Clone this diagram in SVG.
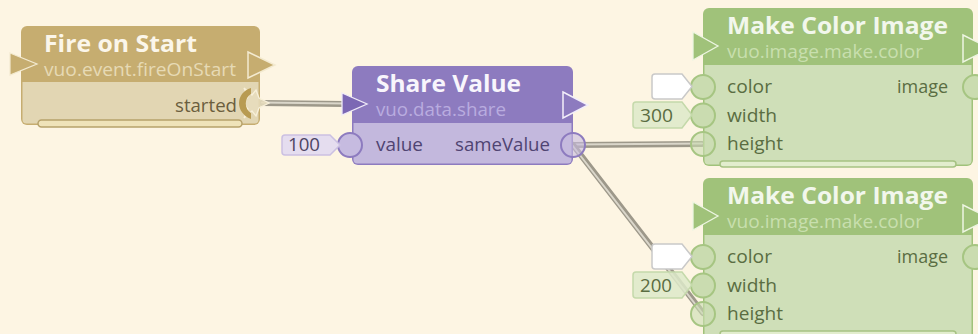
<svg xmlns="http://www.w3.org/2000/svg" width="978" height="334" viewBox="0 0 978 334">
<defs>
<style>
text{font-family:"Open Sans","Noto Sans","DejaVu Sans",sans-serif}
.ttl{font-size:24px;font-weight:bold}
.sub{font-size:18px}
.lbl{font-size:18.5px}
.cab-o{fill:none;stroke:#9d988a;stroke-width:6;stroke-linecap:round}
.cab-i{fill:none;stroke:#dad6ca;stroke-width:2;stroke-linecap:round}
.g-hd{fill:#c6ad70}.g-bd{fill:#e2d6b3}
.p-hd{fill:#8d7bbf}.p-bd{fill:#c3b8dd}
.v-hd{fill:#a0c27a}.v-bd{fill:#cfdfb8}
.g-t{fill:#fbf6ea}.g-s{fill:#e6dab5}.g-l{fill:#6b5e3e}
.p-t{fill:#f8f5fc}.p-s{fill:#b9acdf}.p-l{fill:#4f4472}
.v-t{fill:#f2f7ec}.v-s{fill:#c8dfae}.v-l{fill:#5a6d42}
.vport{fill:#cadcb0;stroke:#a6c582;stroke-width:2}
.vport-c{fill:#cadcb0;fill-opacity:0.6;stroke:#a6c582;stroke-width:2}
.pport{fill:#c6bbe0;stroke:#8d7bbf;stroke-width:2}
.pport-c{fill:#c6bbe0;fill-opacity:0.6;stroke:#8d7bbf;stroke-width:2}
.wflag{fill:#ffffff;stroke:#c9c9c9;stroke-width:1.5}
.vflag{fill:#dde9c9;fill-opacity:0.85;stroke:#c4d9aa;stroke-width:1.5}
.vbar{fill:#e2edcd;stroke:#a6c282;stroke-width:1.5}
</style>
</defs>
<rect width="978" height="334" fill="#fdf5e3"/>

<g id="connectors">
<line class="cab-o" x1="262" y1="103" x2="344" y2="104"/>
<line class="cab-i" x1="262" y1="102.5" x2="344" y2="103.5"/>
<line class="cab-o" x1="573" y1="145" x2="702" y2="144"/>
<line class="cab-i" x1="573" y1="144.5" x2="702" y2="143.5"/>
<line class="cab-o" x1="573" y1="145" x2="703" y2="313"/>
<line class="cab-i" x1="572.5" y1="145.5" x2="702.5" y2="313.5"/>
</g>

<g id="node-fireOnStart">
<rect x="21" y="26" width="239" height="99" rx="6" class="g-hd"/>
<path d="M22.5,82 H258.5 V119.5 Q258.5,123.5 254.5,123.5 H26.5 Q22.5,123.5 22.5,119.5 Z" class="g-bd"/>
<rect x="38" y="120" width="204" height="7" rx="3.5" fill="#efe3b9" stroke="#b7a26b" stroke-width="1.5"/>
<polygon points="10,53 37,64 10,75" class="g-hd" stroke="#f3ead0" stroke-width="1.2"/>
<polygon points="248,52 275,65 248,78" class="g-hd" stroke="#f3ead0" stroke-width="1.5"/>
<text x="44" y="51.5" class="ttl g-t" textLength="153" lengthAdjust="spacingAndGlyphs">Fire on Start</text>
<text x="44" y="75.5" class="sub g-s" textLength="192" lengthAdjust="spacingAndGlyphs">vuo.event.fireOnStart</text>
<text x="237" y="112" class="lbl g-l" text-anchor="end" textLength="62" lengthAdjust="spacingAndGlyphs">started</text>
<polygon points="244,88 252,95 256,90 259,98 269,103 259,108 256,116 252,111 244,118 248,109 243,103 248,97" fill="#e8ddbd" fill-opacity="0.85" stroke="#f8f0da" stroke-width="1.3"/>
<path d="M251,88 C235,93 235,113 251,119 L251,113 C244,109 244,98 251,94 Z" fill="#b89b52"/>
</g>

<g id="node-shareValue">
<rect x="352" y="66" width="221" height="99" rx="6" class="p-hd"/>
<path d="M353.5,123 H571.5 V159.5 Q571.5,163.5 567.5,163.5 H357.5 Q353.5,163.5 353.5,159.5 Z" class="p-bd"/>
<polygon points="342,93 367,104 342,115" fill="#7c68b4" stroke="#efeaf8" stroke-width="1.3"/>
<polygon points="563,92 588,105 563,118" class="p-hd" stroke="#f3effa" stroke-width="1.5"/>
<text x="376" y="92" class="ttl p-t" textLength="145" lengthAdjust="spacingAndGlyphs">Share Value</text>
<text x="376" y="116" class="sub p-s" textLength="130" lengthAdjust="spacingAndGlyphs">vuo.data.share</text>
<circle cx="350" cy="145" r="12" class="pport"/>
<circle cx="573" cy="145" r="12" class="pport-c"/>
<text x="376" y="151" class="lbl p-l" textLength="47" lengthAdjust="spacingAndGlyphs">value</text>
<text x="550" y="151" class="lbl p-l" text-anchor="end" textLength="95" lengthAdjust="spacingAndGlyphs">sameValue</text>
<path d="M285,135 H330 L340,145 L330,155 H285 Q282,155 282,152 V138 Q282,135 285,135 Z" fill="#e5ddef" stroke="#cbc0e2" stroke-width="1.5"/>
<text x="288" y="151" class="lbl" fill="#4e4564" textLength="32" lengthAdjust="spacingAndGlyphs">100</text>
</g>

<g id="node-makeColorImage1">
<rect x="703" y="8" width="270" height="158" rx="6" class="v-hd"/>
<path d="M704.5,65 H971.5 V160.5 Q971.5,164.5 967.5,164.5 H708.5 Q704.5,164.5 704.5,160.5 Z" class="v-bd"/>
<rect x="720" y="161" width="236" height="6" rx="3" class="vbar"/>
<polygon points="693,32 718,46 693,60" class="v-hd" stroke="#edf5e2" stroke-width="1.3"/>
<polygon points="963,35 990,48.5 963,62" class="v-hd" stroke="#edf5e2" stroke-width="1.5"/>
<text x="727" y="34" class="ttl v-t" textLength="221" lengthAdjust="spacingAndGlyphs">Make Color Image</text>
<text x="727" y="58" class="sub v-s" textLength="196" lengthAdjust="spacingAndGlyphs">vuo.image.make.color</text>
<circle cx="703" cy="87" r="12" class="vport"/>
<circle cx="703" cy="115.5" r="12" class="vport"/>
<circle cx="703" cy="144" r="12" class="vport-c"/>
<circle cx="975" cy="87" r="12" class="vport"/>
<text x="727" y="93" class="lbl v-l" textLength="45" lengthAdjust="spacingAndGlyphs">color</text>
<text x="727" y="121.5" class="lbl v-l" textLength="50" lengthAdjust="spacingAndGlyphs">width</text>
<text x="727" y="150" class="lbl v-l" textLength="56" lengthAdjust="spacingAndGlyphs">height</text>
<text x="948" y="93" class="lbl v-l" text-anchor="end" textLength="51" lengthAdjust="spacingAndGlyphs">image</text>
<path d="M655,74 H682 L692,86.5 L682,99 H655 Q652,99 652,96 V77 Q652,74 655,74 Z" class="wflag"/>
<path d="M636,102 H682 L692,115 L682,128 H636 Q633,128 633,125 V105 Q633,102 636,102 Z" class="vflag"/>
<text x="640" y="121.5" class="lbl v-l" textLength="33" lengthAdjust="spacingAndGlyphs">300</text>
</g>

<g id="node-makeColorImage2">
<rect x="703" y="178" width="270" height="170" rx="6" class="v-hd"/>
<path d="M704.5,235 H971.5 V340 H704.5 Z" class="v-bd"/>
<rect x="720" y="331" width="236" height="6" rx="3" class="vbar"/>
<polygon points="693,202 718,216 693,230" class="v-hd" stroke="#edf5e2" stroke-width="1.3"/>
<polygon points="963,205 990,218.5 963,232" class="v-hd" stroke="#edf5e2" stroke-width="1.5"/>
<text x="727" y="204" class="ttl v-t" textLength="221" lengthAdjust="spacingAndGlyphs">Make Color Image</text>
<text x="727" y="228" class="sub v-s" textLength="196" lengthAdjust="spacingAndGlyphs">vuo.image.make.color</text>
<circle cx="703" cy="257" r="12" class="vport"/>
<circle cx="703" cy="285.5" r="12" class="vport"/>
<circle cx="703" cy="314" r="12" class="vport-c"/>
<circle cx="975" cy="257" r="12" class="vport"/>
<text x="727" y="263" class="lbl v-l" textLength="45" lengthAdjust="spacingAndGlyphs">color</text>
<text x="727" y="291.5" class="lbl v-l" textLength="50" lengthAdjust="spacingAndGlyphs">width</text>
<text x="727" y="320" class="lbl v-l" textLength="56" lengthAdjust="spacingAndGlyphs">height</text>
<text x="948" y="263" class="lbl v-l" text-anchor="end" textLength="51" lengthAdjust="spacingAndGlyphs">image</text>
<path d="M636,272 H682 L692,285 L682,298 H636 Q633,298 633,295 V275 Q633,272 636,272 Z" class="vflag"/>
<text x="640" y="291.5" class="lbl v-l" textLength="32" lengthAdjust="spacingAndGlyphs">200</text>
<path d="M655,244 H682 L692,256.5 L682,269 H655 Q652,269 652,266 V247 Q652,244 655,244 Z" class="wflag"/>
</g>
</svg>
